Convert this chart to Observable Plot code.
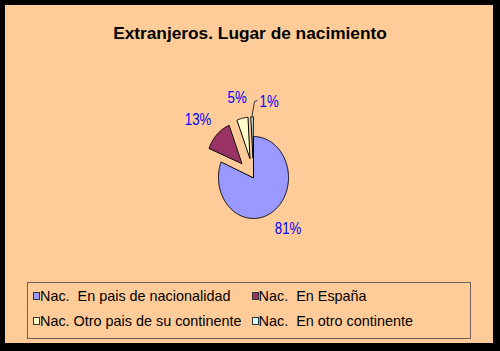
<!DOCTYPE html>
<html>
<head>
<meta charset="utf-8">
<script src="https://cdn.jsdelivr.net/npm/d3@7"></script>
<script src="https://cdn.jsdelivr.net/npm/@observablehq/plot@0.6"></script>
<style>
  html, body { margin: 0; padding: 0; background: #fff; }
  #frame { position: relative; width: 500px; height: 351px; background: #000; overflow: hidden;
           font-family: "Liberation Sans", Arial, sans-serif; }
  #area { position: absolute; left: 5px; top: 5px; width: 488px; height: 338px; background: #FFCC99; }
  #title { position: absolute; left: 0; top: 24.5px; width: 500px; text-align: center; font-weight: bold;
           font-size: 17.3px; line-height: 17.3px; color: #000; white-space: pre; }
  #chart { position: absolute; left: 0; top: 0; }
  #legend { position: absolute; left: 27px; top: 282px; width: 442px; height: 55px; border: 1px solid #6a6058; }
  #legend .grid { position: absolute; left: 5px; top: 0.5px; display: grid;
                  grid-template-columns: max-content max-content; column-gap: 10px; }
  #legend .item { font-size: 14.4px; line-height: 25px; height: 25px; white-space: pre; color: #000; }
  #legend .sw { display: inline-block; width: 5px; height: 6px; border: 1px solid #333; vertical-align: 1px; margin-right: 0px; }
</style>
</head>
<body>
<div id="frame">
  <div id="area"></div>
  <div id="title"></div>
  <div id="chart"></div>
  <div id="legend"><div class="grid"></div></div>
</div>
<script>
// ---- data ----
const title = "Extranjeros. Lugar de nacimiento";
const categories = ["Nac.  En pais de nacionalidad", "Nac.  En España", "Nac. Otro pais de su continente", "Nac.  En otro continente"];
const values = [81, 13, 5, 1];
const colors = ["#9999FF", "#993366", "#FFFFCC", "#CCFFFF"];

// ---- layout ----
const W = 500, H = 351;
const CX = 253, CY = 177, RX = 35, RY = 41;   // pie centre and radii in px
const EXPLODE = 0.48;                          // pull-out of slices after the first
const LABEL_R = 1.38;                          // label anchor distance (radius units)
const FS = 16, SQUASH = 0.83;                  // label font size and horizontal squash
const SMALL = 0.02, SHIFT = {dx: 18, dy: 6};   // small slices get a leader line

document.getElementById("title").textContent = title;

const total = d3.sum(values);
let acc = 0;
const slices = values.map((v, i) => {
  const a0 = acc / total * 2 * Math.PI; acc += v;
  const a1 = acc / total * 2 * Math.PI;
  const mid = (a0 + a1) / 2;
  const e = i >= 1 ? EXPLODE : 0;
  return {i, label: categories[i], value: v, a0, a1, mid,
          vx: e * Math.sin(mid), vy: -e * Math.cos(mid),
          text: Math.round(v / total * 100) + "%"};
});

// slice outlines (positive y is downward)
const pts = [];
for (const s of slices) {
  pts.push({label: s.label, x: s.vx, y: s.vy});
  const n = Math.max(2, Math.ceil((s.a1 - s.a0) / (Math.PI / 180)));
  for (let k = 0; k <= n; k++) {
    const a = s.a0 + (s.a1 - s.a0) * k / n;
    pts.push({label: s.label, x: s.vx + Math.sin(a), y: s.vy - Math.cos(a)});
  }
}

// labels
const labelData = [], leaders = [];
for (const s of slices) {
  const digits = s.text.replace(/[^0-9]/g, "").length;
  const w = (digits * 0.556 + 0.889) * FS * SQUASH;
  const h = 0.716 * FS;
  const sx = Math.sin(s.mid), sy = -Math.cos(s.mid);
  let x = s.vx + LABEL_R * sx + sx * w / 2 / RX;
  let y = s.vy + LABEL_R * sy + sy * h / 2 / RY;
  if (s.value / total < SMALL) {
    x += SHIFT.dx / RX; y += SHIFT.dy / RY;
    const left = x - w / 2 / RX;
    leaders.push({x: s.vx + sx, y: s.vy + sy, k: s.i});
    leaders.push({x: left - 5 / RX, y: y, k: s.i});
    leaders.push({x: left - 2.5 / RX, y: y - 1 / RY, k: s.i});
  }
  labelData.push({x, y, text: s.text});
}

const plot = Plot.plot({
  width: W, height: H, margin: 0,
  style: {background: "transparent", overflow: "visible"},
  x: {domain: [-CX / RX, (W - CX) / RX], range: [0, W], axis: null},
  y: {domain: [-CY / RY, (H - CY) / RY], range: [0, H], axis: null},
  color: {domain: categories, range: colors},
  marks: [
    Plot.line(pts, {x: "x", y: "y", z: "label", fill: "label", stroke: "#000", strokeWidth: 1, curve: "linear-closed"}),
    Plot.line(leaders, {x: "x", y: "y", z: "k", stroke: "#333", strokeWidth: 1}),
    Plot.text(labelData, {x: "x", y: "y", text: "text", fill: "#0000FF", fontSize: FS,
                          fontFamily: "Liberation Sans, Arial, sans-serif", lineAnchor: "middle", textAnchor: "middle"})
  ]
});
document.getElementById("chart").appendChild(plot);
plot.querySelectorAll("text").forEach(t => {
  const L = t.getComputedTextLength();
  t.setAttribute("textLength", (L * SQUASH).toFixed(2));
  t.setAttribute("lengthAdjust", "spacingAndGlyphs");
});

// legend
const grid = document.querySelector("#legend .grid");
categories.forEach((c, i) => {
  const it = document.createElement("div");
  it.className = "item";
  const sw = document.createElement("span");
  sw.className = "sw"; sw.style.background = colors[i];
  const tx = document.createElement("span");
  tx.textContent = c;
  it.appendChild(sw); it.appendChild(tx);
  grid.appendChild(it);
});
</script>
</body>
</html>
